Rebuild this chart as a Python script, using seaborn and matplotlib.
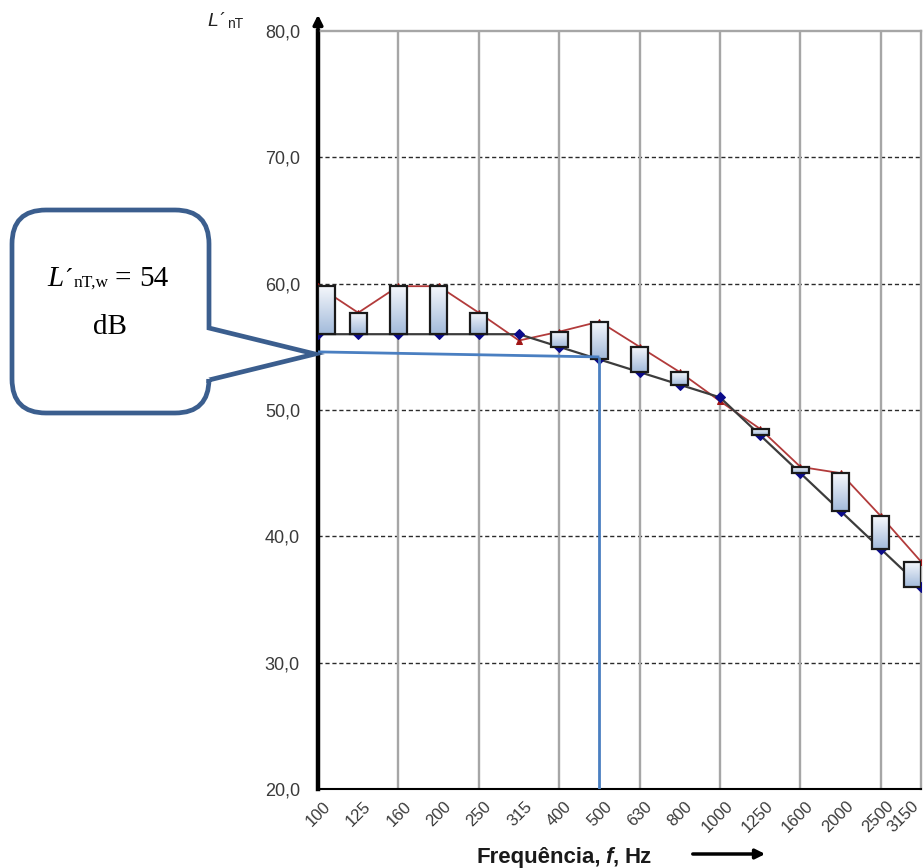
import numpy as np
import pandas as pd
import matplotlib
matplotlib.use('Agg')
import matplotlib.pyplot as plt
import matplotlib.transforms as mtransforms
import seaborn as sns
from matplotlib.path import Path
from matplotlib.patches import PathPatch, Rectangle
from matplotlib.colors import LinearSegmentedColormap

# ========== Data ==========
freqs = ['100', '125', '160', '200', '250', '315', '400', '500',
         '630', '800', '1000', '1250', '1600', '2000', '2500', '3150']
measured = [59.8, 57.7, 59.8, 59.8, 57.7, 55.5, 56.2, 57.0,
            55.0, 53.0, 50.7, 48.5, 45.5, 45.0, 41.6, 38.0]
reference = [56, 56, 56, 56, 56, 56, 55, 54,
             53, 52, 51, 48, 45, 42, 39, 36]
rating = 54
rating_freq = '500'
reading_line = [54.6, 54.2]   # hand drawn line, slightly slanted
yticks = [20, 30, 40, 50, 60, 70, 80]

sns.set_style('white')
plt.rcParams['font.family'] = ['Liberation Sans', 'DejaVu Sans']

W, H = 923, 868
fig = plt.figure(figsize=(W / 100, H / 100), dpi=100)
ax = fig.add_axes([318 / W, 1 - 789 / H, (921 - 318) / W, (789 - 31) / H])

pos = np.arange(len(freqs))
df = pd.DataFrame({'pos': pos, 'freq': freqs, 'measured': measured, 'reference': reference})

# ========== Grid ==========
for y in yticks[1:-1]:
    ax.axhline(y, color='#2a2a2a', lw=1, ls=(0, (3, 2)), zorder=1)
for x in pos[2::2]:
    ax.axvline(x, color='#a6a6a6', lw=1.7, zorder=1)

# ========== Curves ==========
sns.lineplot(data=df, x='pos', y='reference', ax=ax, color='#3c3c3c', lw=1.6,
             marker='D', markersize=5, markerfacecolor='#0b0b8a', markeredgecolor='#0b0b8a', zorder=4)
sns.lineplot(data=df, x='pos', y='measured', ax=ax, color='#b23b3b', lw=1.3,
             marker='^', markersize=5, markerfacecolor='#a01515', markeredgecolor='#a01515', zorder=3)

# ========== Deviation boxes ==========
bar_w = 0.42
cmap = LinearSegmentedColormap.from_list('bar', ['#f6f8fc', '#a3bbdb'])
grad = np.linspace(0, 1, 64).reshape(-1, 1)
for i, (m, r) in enumerate(zip(measured, reference)):
    if m <= r:
        continue
    c = np.clip(i, bar_w / 2, len(freqs) - 1 - bar_w / 2)
    ax.imshow(grad, extent=[c - bar_w / 2, c + bar_w / 2, r, m], cmap=cmap,
              aspect='auto', interpolation='bilinear', zorder=5)
    ax.add_patch(Rectangle((c - bar_w / 2, r), bar_w, m - r, fill=False,
                           ec='#1a1a1a', lw=1.6, zorder=6))

# ========== Reading line for the single number rating ==========
xr = freqs.index(rating_freq)
ax.plot([0, xr], reading_line, color='#4a7fc1', lw=2, zorder=7, solid_capstyle='butt')
ax.plot([xr, xr], [reading_line[1], yticks[0]], color='#4a7fc1', lw=2, zorder=7, solid_capstyle='butt')

# ========== Axes styling ==========
ax.set_xlim(0, len(freqs) - 1)
ax.set_ylim(yticks[0], yticks[-1])
ax.set_xlabel('')
ax.set_ylabel('')

ax.set_xticks(pos)
ax.set_xticklabels(freqs, rotation=45, ha='right', rotation_mode='anchor',
                   fontsize=12, color='#3a3a3a')
ax.set_xticks(pos[::2], minor=True)
ax.tick_params(axis='x', which='major', length=0, pad=7)
ax.tick_params(axis='x', which='minor', length=5, width=1, color='black', direction='out')
labels = ax.get_xticklabels()
for k, lab in enumerate(labels):
    dx = 5 if k < len(labels) - 1 else -10   # keep the last label inside the figure
    lab.set_transform(lab.get_transform() + mtransforms.ScaledTranslation(dx / 100, 0, fig.dpi_scale_trans))

ax.set_yticks(yticks)
ax.set_yticklabels([f'{v:.1f}'.replace('.', ',') for v in yticks], fontsize=13, color='#3a3a3a')
ax.tick_params(axis='y', length=6, width=1, direction='inout', color='black', pad=10)

ax.spines['left'].set_color('black')
ax.spines['left'].set_linewidth(3.2)
ax.spines['bottom'].set_color('black')
ax.spines['bottom'].set_linewidth(1.5)
for s in ['top', 'right']:
    ax.spines[s].set_color('#a6a6a6')
    ax.spines[s].set_linewidth(1.7)

# ========== Overlay in image pixel coordinates ==========
over = fig.add_axes([0, 0, 1, 1])
over.set_xlim(0, W)
over.set_ylim(H, 0)
over.axis('off')

renderer = fig.canvas.get_renderer()


def draw_runs(x, y, runs):
    for s, kw, dy, gap in runs:
        t = over.text(x, y + dy, s, ha='left', va='baseline', **kw)
        x += t.get_window_extent(renderer).width + gap


# axis arrows
over.annotate('', xy=(318, 12), xytext=(318, 40),
              arrowprops=dict(arrowstyle='-|>', color='black', lw=2.5, mutation_scale=14))
over.annotate('', xy=(768, 854), xytext=(690, 854),
              arrowprops=dict(arrowstyle='-|>', color='black', lw=2.5, mutation_scale=14))

# y label
sans = 'Liberation Sans'
draw_runs(207, 26, [
    ('L', dict(fontsize=14, style='italic', family=sans, color='#222222'), 0, 1),
    ('\u00b4', dict(fontsize=13, family=sans, color='#222222'), 0, 2),
    ('nT', dict(fontsize=10, family=sans, color='#222222'), 2, 0),
])

# x label
xl = dict(fontsize=16, weight='bold', family=sans, color='#1a1a1a')
draw_runs(476, 863, [
    ('Frequência,', xl, 0, 5),
    ('f', dict(xl, style='italic'), 0, 0),
    (',', xl, 0, 5),
    ('Hz', xl, 0, 0),
])

# callout
left, right, top, bottom, rad = 12, 209, 210, 413, 34
tip = (315, 354)
verts = [(left + rad, top), (right - rad, top), (right, top), (right, top + rad),
         (right, 328), tip, (right, 380), (right, bottom - rad),
         (right, bottom), (right - rad, bottom), (left + rad, bottom),
         (left, bottom), (left, bottom - rad), (left, top + rad),
         (left, top), (left + rad, top), (left + rad, top)]
codes = [Path.MOVETO, Path.LINETO, Path.CURVE3, Path.CURVE3,
         Path.LINETO, Path.LINETO, Path.LINETO, Path.LINETO,
         Path.CURVE3, Path.CURVE3, Path.LINETO,
         Path.CURVE3, Path.CURVE3, Path.LINETO,
         Path.CURVE3, Path.CURVE3, Path.CLOSEPOLY]
over.add_patch(PathPatch(Path(verts, codes), facecolor='white', edgecolor='#3b5e8e',
                         lw=3.4, joinstyle='miter'))

serif = 'Liberation Serif'
draw_runs(47, 286, [
    ('L', dict(fontsize=21, style='italic', family=serif, color='black'), 0, 1),
    ('\u00b4', dict(fontsize=18, family=serif, color='black'), 0, 1),
    ('nT,w', dict(fontsize=12.5, family=serif, color='black'), 1, 6),
    ('=', dict(fontsize=21, family=serif, color='black'), 0, 8),
    (str(rating), dict(fontsize=21, family=serif, color='black'), 0, 0),
])
over.text(110, 334, 'dB', ha='center', va='baseline', fontsize=21, family=serif, color='black')

fig.savefig('out.png', dpi=100)
